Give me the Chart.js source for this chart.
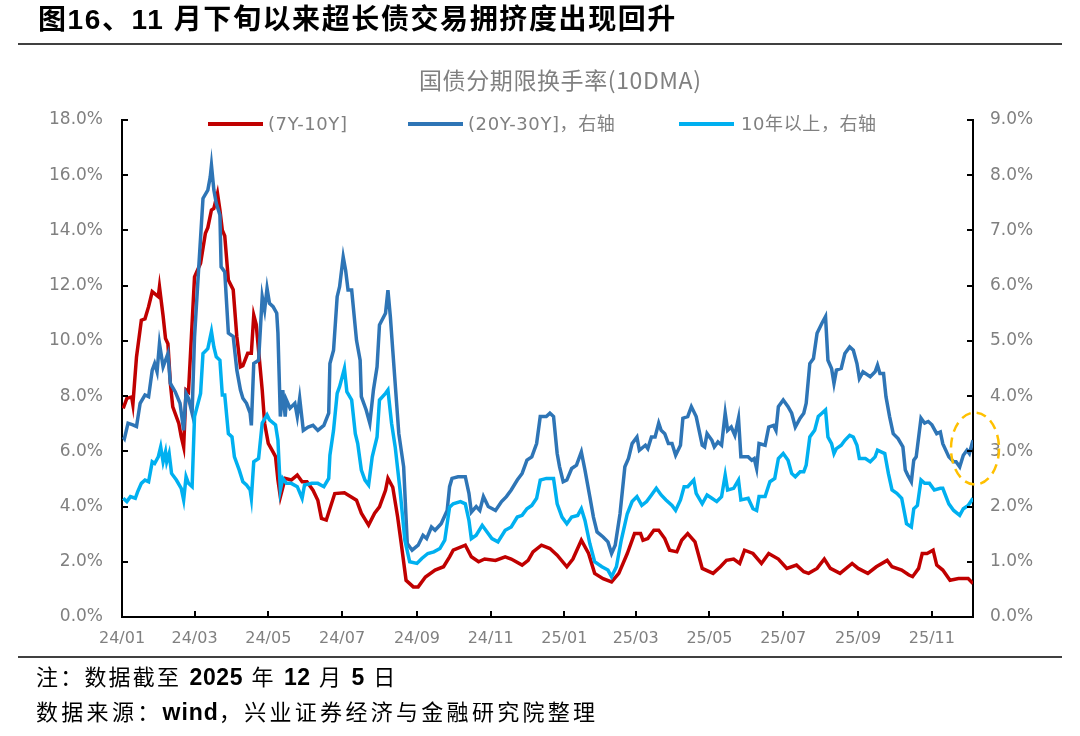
<!DOCTYPE html>
<html><head><meta charset="utf-8">
<script src="https://cdn.jsdelivr.net/npm/chart.js@4.4.0/dist/chart.umd.min.js"></script>
<style>
html,body{margin:0;padding:0;background:#fff;}
#wrap{position:relative;width:1080px;height:736px;overflow:hidden;background:#fff;}
#c{position:absolute;left:0;top:0;}
.t{position:absolute;white-space:nowrap;line-height:1;}
#title{left:38px;top:6px;font-size:28px;letter-spacing:1.6px;color:#000;font-weight:700;font-family:"Liberation Sans","Noto Sans CJK SC",sans-serif;}
.rule{position:absolute;left:18px;width:1044px;height:2px;background:#404040;}
#sub{left:419px;top:68px;font-size:23px;letter-spacing:0.6px;color:#808080;font-family:"Noto Sans CJK SC",sans-serif;}
.lg{position:absolute;height:4px;width:55px;top:122px;}
.lt{position:absolute;top:115px;font-size:18px;line-height:18px;letter-spacing:0.6px;color:#808080;white-space:nowrap;font-family:"DejaVu Sans","Noto Sans CJK SC",sans-serif;}
.foot{left:36px;font-size:22px;color:#000;font-family:"Liberation Sans","Noto Sans CJK SC",sans-serif;}
.foot b{font-weight:700;}
.foot .n{font-size:23px;letter-spacing:0.6px;}
</style></head>
<body>
<div id="wrap">
<canvas id="c" width="1080" height="736"></canvas>
<div class="t" id="title">图16、11 月下旬以来超长债交易拥挤度出现回升</div>
<div class="rule" style="top:43px"></div>
<div class="t" id="sub">国债分期限换手率(10DMA)</div>
<div class="lg" style="left:208px;background:#C00000"></div>
<div class="lt" style="left:268px">(7Y-10Y]</div>
<div class="lg" style="left:408px;background:#2E75B6"></div>
<div class="lt" style="left:468px">(20Y-30Y]，右轴</div>
<div class="lg" style="left:679px;background:#00B0F0"></div>
<div class="lt" style="left:741px">10年以上，右轴</div>
<div class="rule" style="top:656px"></div>
<div class="t foot" style="top:666px;letter-spacing:2.2px">注：数据截至 <b class="n">2025</b> 年 <b class="n">12</b> 月 <b class="n">5</b> 日</div>
<div class="t foot" style="top:701px;letter-spacing:3.3px">数据来源：<b style="font-size:23px;letter-spacing:1px">wind</b>，兴业证券经济与金融研究院整理</div>
</div>
<script>
// x = days since 2024-01-01
const tickDays = [0,60,121,182,244,305,366,425,486,547,609,670];
const tickLabels = ['24/01','24/03','24/05','24/07','24/09','24/11','25/01','25/03','25/05','25/07','25/09','25/11'];
const seriesNames = ['(7Y-10Y]','(20Y-30Y]，右轴','10年以上，右轴'];

// (7Y-10Y], left axis, %
const red7_10 = [[1,7.55],[4,7.92],[8,7.97],[9,7.7],[12,9.42],[16,10.75],[19,10.8],[22,11.24],[25,11.78],[30,11.6],[31,11.96],[34,10.9],[36,10.09],[38,9.9],[40,8.46],[42,7.61],[47,7.01],[49,6.53],[51,6.16],[53,8.22],[55,8.15],[60,12.32],[65,12.81],[69,13.9],[71,14.1],[74,14.74],[76,14.8],[79,15.34],[81,14.74],[83,14.01],[85,13.8],[88,12.2],[92,11.85],[95,10.15],[98,9.06],[100,9.1],[104,9.55],[107,9.55],[109,10.93],[111,10.6],[116,8.22],[118,7.01],[121,6.29],[124,6.05],[127,5.81],[129,4.96],[131,4.35],[135,5.02],[140,4.96],[145,5.14],[149,4.9],[153,4.9],[158,4.59],[162,4.23],[165,3.57],[169,3.51],[176,4.47],[184,4.5],[194,4.23],[198,3.76],[204,3.33],[209,3.76],[213,3.99],[218,4.59],[220,5.02],[224,4.7],[228,3.63],[231,2.66],[235,1.33],[241,1.09],[245,1.09],[251,1.45],[259,1.7],[266,1.82],[271,2.18],[274,2.42],[284,2.6],[289,2.18],[295,2.0],[300,2.1],[309,2.05],[317,2.18],[322,2.1],[331,1.88],[336,2.05],[340,2.36],[347,2.6],[354,2.48],[360,2.24],[368,1.82],[373,2.1],[380,2.78],[386,2.3],[391,1.58],[398,1.39],[405,1.27],[411,1.58],[418,2.3],[424,3.02],[429,3.02],[431,2.78],[435,2.84],[440,3.14],[444,3.14],[449,2.84],[453,2.42],[459,2.36],[463,2.78],[468,3.02],[474,2.72],[480,1.76],[489,1.58],[495,1.82],[500,2.05],[506,2.1],[511,1.94],[515,2.42],[522,2.3],[529,1.94],[535,2.3],[543,2.1],[550,1.76],[558,1.88],[564,1.64],[568,1.58],[575,1.76],[581,2.1],[586,1.76],[594,1.58],[604,1.94],[609,1.76],[617,1.58],[624,1.82],[633,2.05],[637,1.82],[645,1.7],[651,1.52],[654,1.46],[659,1.76],[662,2.3],[666,2.3],[671,2.42],[674,1.88],[679,1.7],[685,1.33],[692,1.39],[700,1.39],[704,1.21]];

// (20Y-30Y], right axis, %
const blue20_30 = [[1,3.26],[2,3.23],[5,3.51],[9,3.48],[12,3.45],[15,3.87],[19,4.02],[22,3.99],[25,4.47],[27,4.59],[29,4.44],[31,4.95],[34,4.53],[38,4.77],[40,4.23],[44,4.08],[48,3.87],[51,3.38],[53,4.05],[55,3.96],[58,3.69],[60,5.07],[63,6.16],[67,7.58],[71,7.73],[73,7.97],[74,8.18],[76,7.73],[78,7.49],[81,7.28],[82,6.34],[85,6.25],[88,5.14],[92,5.08],[95,4.47],[98,4.11],[100,3.96],[103,3.87],[106,3.69],[107,3.47],[109,4.59],[113,4.65],[116,5.8],[118,5.56],[120,5.95],[122,5.68],[125,5.62],[128,5.5],[129,5.14],[131,3.63],[133,4.11],[135,3.63],[136,3.93],[139,3.78],[143,3.87],[145,3.63],[147,3.96],[150,3.38],[154,3.44],[158,3.47],[162,3.38],[167,3.47],[171,3.69],[172,4.59],[175,4.83],[178,5.8],[180,5.98],[183,6.52],[185,6.28],[187,5.92],[190,5.92],[194,5.01],[197,4.65],[198,3.99],[202,3.75],[205,3.51],[208,4.11],[211,4.53],[213,5.29],[218,5.5],[220,5.92],[222,5.44],[224,4.83],[229,3.32],[233,2.72],[236,1.33],[240,1.21],[245,1.3],[249,1.48],[252,1.42],[256,1.63],[259,1.57],[264,1.69],[269,1.93],[271,2.36],[273,2.51],[278,2.54],[284,2.54],[287,2.24],[289,1.9],[293,2.0],[296,1.93],[299,2.18],[303,2.0],[309,1.93],[314,2.09],[318,2.18],[322,2.3],[327,2.48],[331,2.6],[335,2.84],[339,2.9],[343,3.14],[346,3.63],[351,3.63],[354,3.69],[357,3.63],[360,2.96],[362,2.72],[365,2.45],[368,2.48],[372,2.69],[376,2.75],[380,2.99],[383,2.66],[387,2.18],[390,1.81],[393,1.54],[398,1.45],[402,1.36],[405,1.15],[408,1.3],[412,1.87],[416,2.72],[419,2.87],[422,3.14],[426,3.26],[428,3.02],[433,3.11],[435,3.05],[438,3.26],[441,3.26],[444,3.51],[446,3.38],[449,3.32],[452,3.14],[455,3.14],[458,2.93],[462,3.11],[464,3.6],[468,3.63],[471,3.81],[475,3.63],[480,3.11],[482,3.08],[484,3.32],[488,3.2],[490,3.08],[493,3.17],[496,3.11],[499,3.69],[501,3.38],[504,3.44],[507,3.29],[510,3.6],[512,2.9],[518,2.9],[521,2.84],[523,2.87],[525,2.69],[527,3.14],[532,3.11],[535,3.44],[539,3.47],[541,3.38],[543,3.81],[547,3.93],[551,3.81],[554,3.69],[557,3.44],[561,3.6],[564,3.69],[566,3.87],[569,4.59],[572,4.68],[575,5.14],[579,5.32],[582,5.44],[584,4.65],[587,4.5],[589,4.23],[591,4.47],[595,4.5],[598,4.77],[602,4.89],[605,4.83],[608,4.59],[610,4.32],[613,4.44],[619,4.35],[623,4.44],[625,4.56],[627,4.41],[630,4.41],[632,3.99],[635,3.63],[638,3.32],[642,3.23],[646,3.08],[648,2.66],[650,2.57],[653,2.45],[655,2.84],[657,2.9],[661,3.6],[664,3.51],[667,3.54],[670,3.48],[674,3.32],[677,3.35],[679,3.14],[684,2.9],[688,2.81],[690,2.81],[693,2.72],[696,2.93],[699,3.02],[701,2.96],[704,3.2]];

// 10年以上, right axis, %
const cyan10plus = [[1,2.15],[4,2.09],[7,2.18],[11,2.15],[13,2.27],[16,2.42],[19,2.48],[22,2.45],[25,2.81],[27,2.78],[30,2.9],[32,3.08],[34,2.81],[36,2.99],[37,2.81],[39,2.96],[41,2.6],[45,2.48],[49,2.33],[51,2.12],[53,2.54],[55,2.42],[58,2.36],[60,3.63],[65,4.05],[67,4.77],[71,4.86],[74,5.17],[76,4.89],[78,4.71],[81,4.65],[83,4.02],[85,4.02],[88,3.32],[91,3.26],[93,2.9],[97,2.66],[100,2.45],[103,2.39],[106,2.3],[107,2.15],[109,2.81],[113,2.87],[116,3.51],[120,3.66],[122,3.57],[127,3.48],[129,3.2],[131,2.3],[133,2.51],[136,2.42],[140,2.42],[145,2.36],[149,2.15],[151,2.39],[157,2.42],[162,2.42],[167,2.36],[171,2.51],[172,2.93],[175,3.38],[178,4.05],[180,4.17],[184,4.5],[186,4.08],[190,3.93],[193,3.32],[195,3.14],[198,2.66],[201,2.48],[204,2.39],[207,2.9],[211,3.26],[213,3.93],[218,4.05],[220,4.11],[223,3.51],[226,3.08],[230,2.3],[234,1.39],[238,1.0],[244,0.97],[248,1.06],[253,1.15],[258,1.18],[263,1.24],[267,1.39],[271,1.99],[274,2.05],[280,2.09],[284,2.05],[287,1.75],[289,1.42],[293,1.48],[298,1.66],[302,1.54],[306,1.42],[311,1.36],[317,1.57],[322,1.63],[327,1.81],[331,1.84],[335,1.96],[339,2.02],[343,2.15],[346,2.48],[351,2.51],[357,2.51],[360,2.05],[364,1.81],[368,1.69],[372,1.81],[377,1.84],[380,1.96],[383,1.75],[387,1.33],[391,1.0],[397,0.91],[402,0.85],[405,0.73],[409,0.91],[413,1.39],[418,1.87],[422,2.09],[426,2.18],[430,2.02],[434,2.09],[438,2.21],[442,2.33],[446,2.21],[450,2.12],[455,2.02],[458,1.93],[462,2.12],[465,2.36],[468,2.36],[473,2.48],[475,2.24],[480,2.05],[484,2.21],[488,2.15],[492,2.09],[496,2.18],[499,2.57],[501,2.3],[506,2.33],[510,2.48],[512,2.12],[518,2.15],[522,1.96],[525,1.93],[527,2.18],[532,2.18],[536,2.45],[540,2.51],[543,2.87],[547,2.96],[551,2.84],[554,2.6],[557,2.54],[561,2.63],[564,2.63],[566,2.75],[569,3.26],[573,3.38],[576,3.63],[579,3.69],[582,3.75],[584,3.26],[587,3.14],[589,2.96],[591,3.05],[595,3.11],[598,3.2],[602,3.29],[605,3.26],[608,3.11],[610,2.87],[615,2.87],[619,2.81],[623,2.9],[625,3.02],[628,2.99],[631,2.96],[634,2.6],[637,2.3],[641,2.24],[645,2.15],[648,1.81],[649,1.69],[653,1.63],[655,1.96],[658,2.02],[661,2.48],[664,2.42],[668,2.42],[672,2.3],[677,2.33],[679,2.33],[684,2.05],[688,1.93],[693,1.84],[696,1.96],[700,2.02],[704,2.15]];

const toXY = arr => arr.map(p => ({x: p[0], y: p[1]}));
const tickFont = {family: '"DejaVu Sans","Noto Sans CJK SC",sans-serif', size: 17};
const xFont = {family: '"DejaVu Sans","Noto Sans CJK SC",sans-serif', size: 16};

const inTicks = {
  id: 'inTicks',
  afterDraw(chart) {
    const ctx = chart.ctx;
    const {left, right, bottom} = chart.chartArea;
    const yl = chart.scales.y, yr = chart.scales.y1, xs = chart.scales.x;
    ctx.save();
    ctx.strokeStyle = '#000';
    ctx.lineWidth = 2;
    ctx.beginPath();
    yl.ticks.forEach(t => { const py = Math.round(yl.getPixelForValue(t.value)); ctx.moveTo(left, py); ctx.lineTo(left + 6, py); });
    yr.ticks.forEach(t => { const py = Math.round(yr.getPixelForValue(t.value)); ctx.moveTo(right, py); ctx.lineTo(right - 6, py); });
    xs.ticks.forEach(t => { const px = Math.round(xs.getPixelForValue(t.value)); ctx.moveTo(px, bottom); ctx.lineTo(px, bottom - 6); });
    ctx.stroke();
    // highlight ellipse around latest value of (20Y-30Y]
    const last = blue20_30[blue20_30.length - 1];
    const cx = xs.getPixelForValue(last[0]) + 2;
    const cy = yr.getPixelForValue(3.05);
    ctx.strokeStyle = '#FFC000';
    ctx.lineWidth = 2.5;
    ctx.setLineDash([10, 6]);
    ctx.beginPath();
    ctx.ellipse(cx, cy, 24, 36, 0, 0, Math.PI * 2);
    ctx.stroke();
    ctx.restore();
  }
};

new Chart(document.getElementById('c'), {
  type: 'line',
  data: {
    datasets: [
      {label: seriesNames[0], data: toXY(red7_10), yAxisID: 'y', borderColor: '#C00000', borderWidth: 3.5, pointRadius: 0, tension: 0, order: 3},
      {label: seriesNames[1], data: toXY(blue20_30), yAxisID: 'y1', borderColor: '#2E75B6', borderWidth: 3.5, pointRadius: 0, tension: 0, order: 2},
      {label: seriesNames[2], data: toXY(cyan10plus), yAxisID: 'y1', borderColor: '#00B0F0', borderWidth: 3.5, pointRadius: 0, tension: 0, order: 1}
    ]
  },
  options: {
    responsive: false,
    animation: false,
    devicePixelRatio: 1,
    layout: {padding: {top: 120, left: 0, right: 0, bottom: 0}},
    plugins: {legend: {display: false}, tooltip: {enabled: false}, title: {display: false}},
    scales: {
      x: {
        type: 'linear', min: 0, max: 704,
        afterBuildTicks: s => { s.ticks = tickDays.map(v => ({value: v})); },
        afterFit: s => { s.height = 119; },
        grid: {display: false, drawTicks: false},
        border: {display: true, color: '#000', width: 2},
        ticks: {autoSkip: false, maxRotation: 0, padding: 12, color: '#808080', font: xFont,
          callback: v => { const i = tickDays.indexOf(v); return i >= 0 ? tickLabels[i] : ''; }}
      },
      y: {
        position: 'left', min: 0, max: 18,
        afterFit: s => { s.width = 122; },
        grid: {display: false, drawTicks: false},
        border: {display: true, color: '#000', width: 2},
        ticks: {stepSize: 2, padding: 19, color: '#808080', font: tickFont, callback: v => v.toFixed(1) + '%'}
      },
      y1: {
        position: 'right', min: 0, max: 9,
        afterFit: s => { s.width = 107; },
        grid: {display: false, drawTicks: false},
        border: {display: true, color: '#000', width: 2},
        ticks: {stepSize: 1, padding: 17, color: '#808080', font: tickFont, callback: v => v.toFixed(1) + '%'}
      }
    }
  },
  plugins: [inTicks]
});
</script>
</body></html>
